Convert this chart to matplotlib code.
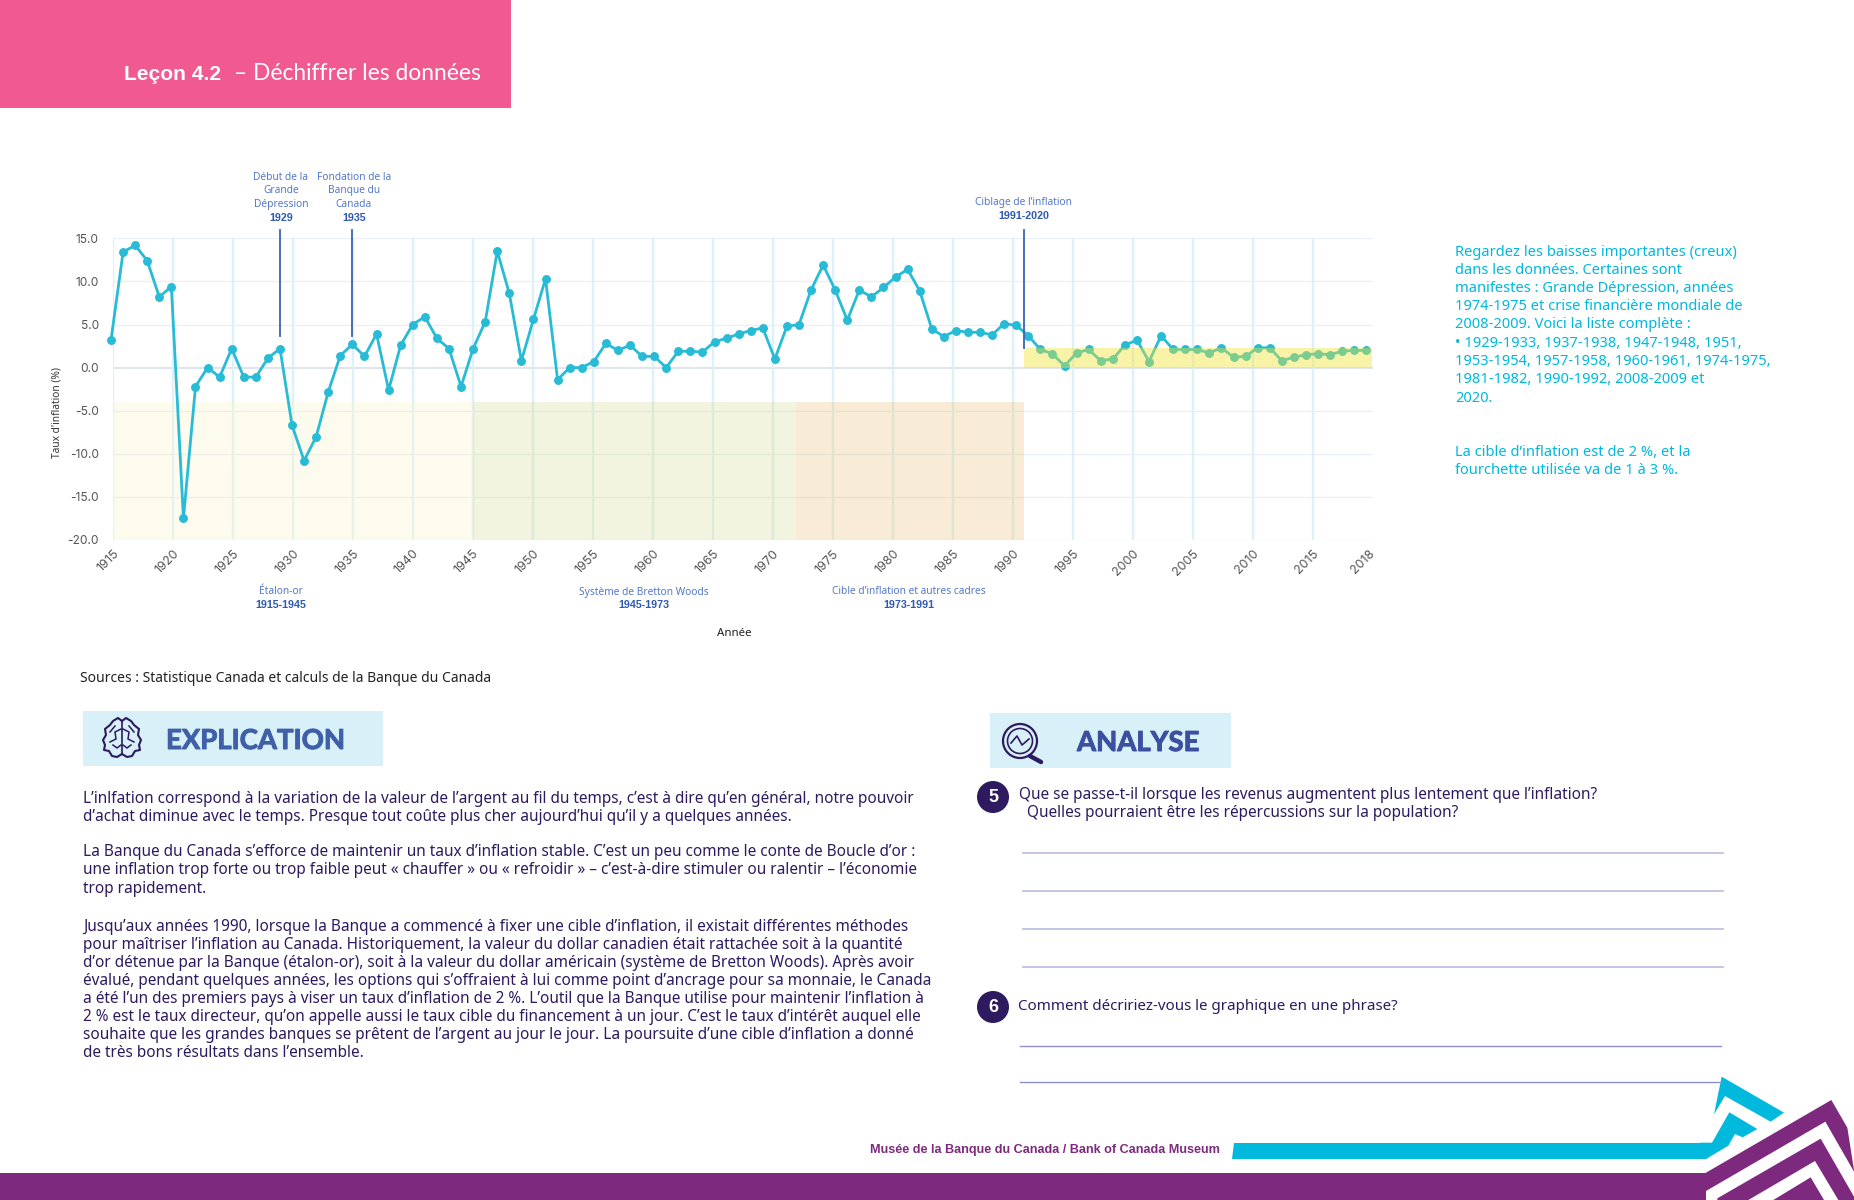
import matplotlib
matplotlib.use('Agg')
import matplotlib.pyplot as plt
import matplotlib.patheffects as pe
from matplotlib.patches import Rectangle, Polygon, Circle

# Chart data
years = list(range(1915, 2020))
inflation = [3.2, 13.4, 14.2, 12.4, 8.2, 9.4, -17.5, -2.2, 0.0, -1.1,
             2.2, -1.1, -1.1, 1.1, 2.2, -6.7, -10.8, -8.0, -2.8, 1.4,
             2.7, 1.3, 3.9, -2.6, 2.6, 5.0, 5.9, 3.4, 2.2, -2.2,
             2.2, 5.3, 13.5, 8.6, 0.8, 5.6, 10.3, -1.4, 0.0, 0.0,
             0.7, 2.8, 2.0, 2.6, 1.3, 1.3, 0.0, 1.9, 1.9, 1.8,
             3.0, 3.4, 3.9, 4.3, 4.6, 1.0, 4.8, 5.0, 9.0, 11.9,
             9.0, 5.5, 9.0, 8.2, 9.3, 10.5, 11.4, 8.9, 4.5, 3.6,
             4.3, 4.1, 4.1, 3.8, 5.1, 4.9, 3.7, 2.1, 1.6, 0.2,
             1.7, 2.1, 0.8, 1.0, 2.6, 3.2, 0.7, 3.7, 2.1, 2.1,
             2.1, 1.7, 2.3, 1.2, 1.3, 2.3, 2.3, 0.8, 1.2, 1.5,
             1.6, 1.5, 1.9, 2.0, 2.0]
y_ticks = [15, 10, 5, 0, -5, -10, -15, -20]
x_tick_labels = list(range(1915, 2016, 5)) + [2018]
regime_edges = [1915.15, 1945.0, 1971.75, 1990.65]
regime_colors = ['#F9F4CE', '#DAE2A4', '#EBC98A']
target_band = [1990.65, 2019.5, 0, 2.25]
event_years = [1929, 1935, 1990.65]
event_tops = [3.7, 3.7, 2.25]

NAVY = '#2E1A5E'
CYAN = '#00B9DC'
PURPLE = '#7D2A7E'
BLUE = '#5478C8'
DBLUE = '#2F5AB0'
FONT = 'Noto Sans'
BOLD = 'Liberation Sans'

fig = plt.figure(figsize=(18.54, 12), dpi=100)

# page layer in pixel coordinates
page = fig.add_axes([0, 0, 1, 1])
page.set_xlim(0, 1854)
page.set_ylim(1200, 0)
page.axis('off')


def pt(px):
    return px * 0.72


def txt(x, y, s, size, color=NAVY, ha='left', weight='normal', family=FONT, **kw):
    return page.text(x, y, s, fontsize=pt(size), color=color, ha=ha, va='center',
                     fontweight=weight, family=family, **kw)


# header
page.add_patch(Rectangle((0, 0), 511, 108, color='#F15A90', lw=0))
txt(124, 74, 'Leçon 4.2', 21, color='white', weight='bold', family=BOLD)
txt(234, 74, '– Déchiffrer les données', 22.8, color='white', family='Lato')

# chart: year axis is laid so 1915 falls at px 111 and spacing is 12.07 px
left, right, top, bottom = 112.7, 1373.0, 238.3, 540.0
ax = fig.add_axes([left / 1854, 1 - bottom / 1200, (right - left) / 1854, (bottom - top) / 1200])
ax.patch.set_alpha(0)
ax.set_xlim(1915 + (left - 111) / 12.07, 1915 + (right - 111) / 12.07)
ax.set_ylim(-20, 15)
for s in ax.spines.values():
    s.set_visible(False)

for y in y_ticks:
    ax.axhline(y, color='#D6DCE8' if y == 0 else '#E9EFF5', lw=1.1 if y == 0 else 0.9, zorder=1)
# the vertical guides in the picture run at 12 px a year, a little tighter than the points
grid_years = [1915.14 + (v - 1915) * 12 / 12.07 for v in x_tick_labels[:-1]]
for g in grid_years:
    ax.axvline(g, color='#DCF1F9', lw=1.7, zorder=1)

for i in range(3):
    ax.axvspan(regime_edges[i], regime_edges[i + 1], ymin=0, ymax=16 / 35,
               color=regime_colors[i], alpha=0.35, lw=0, zorder=2)

ax.plot(years, inflation, color='#27BBD6', lw=2.0, marker='o', ms=5.4, clip_on=False, zorder=3)
ax.add_patch(Rectangle((target_band[0], target_band[2]), target_band[1] - target_band[0],
                       target_band[3] - target_band[2], color='#F2E430', alpha=0.42, lw=0, zorder=4))
for e, t in zip(event_years, event_tops):
    ax.plot([e, e], [t, 16], color='#3A62B8', lw=1.3, clip_on=False, zorder=5)

ax.set_yticks(y_ticks)
ax.set_yticklabels([f'{v:.1f}' for v in y_ticks], fontsize=pt(12), color='#555555', family='Inter')
ax.set_xticks(grid_years + [2019.2])
ax.set_xticklabels(x_tick_labels, fontsize=pt(12.5), color='#555555', family='Inter',
                   rotation=45, ha='right', rotation_mode='anchor')
ax.tick_params(axis='y', length=0, pad=10)
ax.tick_params(axis='x', length=0, pad=5.5)

txt(57, 413, "Taux d'inflation (%)", 10.2, color='#333333', ha='center', rotation=90)
txt(734, 633, 'Année', 11.5, color='#222222', ha='center')

for x, lines, year in [(281, ['Début de la', 'Grande', 'Dépression'], '1929'),
                       (354, ['Fondation de la', 'Banque du', 'Canada'], '1935')]:
    for i, line in enumerate(lines):
        txt(x, 177 + i * 13.7, line, 10.2, color=BLUE, ha='center')
    txt(x, 218, year, 10.8, color=DBLUE, ha='center', weight='bold', family=BOLD)
txt(1024, 202, 'Ciblage de l’inflation', 10.2, color=BLUE, ha='center')
txt(1024, 216, '1991-2020', 10.8, color=DBLUE, ha='center', weight='bold', family=BOLD)
for x, a, b in [(281, 'Étalon-or', '1915-1945'),
                (644, 'Système de Bretton Woods', '1945-1973'),
                (909, 'Cible d’inflation et autres cadres', '1973-1991')]:
    txt(x, 592, a, 10.2, color=BLUE, ha='center')
    txt(x, 605, b, 10.8, color=DBLUE, ha='center', weight='bold', family=BOLD)

# side note
side_lines = ['Regardez les baisses importantes (creux)', 'dans les données. Certaines sont',
              'manifestes : Grande Dépression, années', '1974-1975 et crise financière mondiale de',
              '2008-2009. Voici la liste complète :', '• 1929-1933, 1937-1938, 1947-1948, 1951,',
              '1953-1954, 1957-1958, 1960-1961, 1974-1975,', '1981-1982, 1990-1992, 2008-2009 et', '2020.']
for i, line in enumerate(side_lines):
    txt(1455, 252 + i * 18.25, line, 14.7, color=CYAN)
txt(1455, 452, 'La cible d’inflation est de 2 %, et la', 14.7, color=CYAN)
txt(1455, 470, 'fourchette utilisée va de 1 à 3 %.', 14.7, color=CYAN)

txt(80, 679, 'Sources : Statistique Canada et calculs de la Banque du Canada', 13.9, color='#222222')

# explication block
stroke = [pe.withStroke(linewidth=0.7, foreground='#3F5FA8')]
page.add_patch(Rectangle((83, 711), 300, 55, color='#D8F0F7', lw=0))
txt(166, 741, 'EXPLICATION', 27.5, color='#3F5FA8', weight='bold', family='Lato', path_effects=stroke)
# brain outline, one lobe each side of the middle line
lobe_x = [0, 4, 9, 12, 17, 16, 19, 17, 18, 13, 10, 5, 0]
lobe_y = [-17, -20, -17, -13, -9, -3, 2, 7, 12, 13, 18, 19, 16]
for side in [-1, 1]:
    page.plot([122 + side * a for a in lobe_x], [738 + b for b in lobe_y], color=NAVY, lw=1.5)
    page.plot([122 + side * a for a in [1, 7, 6, 12]], [738 + b for b in [-9, -6, 1, 4]], color=NAVY, lw=1.1)
    page.plot([122 + side * a for a in [1, 5, 9]], [738 + b for b in [7, 10, 7]], color=NAVY, lw=1.1)
    page.plot([122 + side * a for a in [7, 12]], [738 + b for b in [-12, -6]], color=NAVY, lw=1.1)
page.plot([122, 122], [721, 754], color=NAVY, lw=1.2)

body_lines = [(799, 'L’inlfation correspond à la variation de la valeur de l’argent au fil du temps, c’est à dire qu’en général, notre pouvoir'),
              (817, 'd’achat diminue avec le temps. Presque tout coûte plus cher aujourd’hui qu’il y a quelques années.'),
              (852, 'La Banque du Canada s’efforce de maintenir un taux d’inflation stable. C’est un peu comme le conte de Boucle d’or :'),
              (870, 'une inflation trop forte ou trop faible peut « chauffer » ou « refroidir » – c’est-à-dire stimuler ou ralentir – l’économie'),
              (889, 'trop rapidement.'),
              (927, 'Jusqu’aux années 1990, lorsque la Banque a commencé à fixer une cible d’inflation, il existait différentes méthodes'),
              (945, 'pour maîtriser l’inflation au Canada. Historiquement, la valeur du dollar canadien était rattachée soit à la quantité'),
              (963, 'd’or détenue par la Banque (étalon-or), soit à la valeur du dollar américain (système de Bretton Woods). Après avoir'),
              (981, 'évalué, pendant quelques années, les options qui s’offraient à lui comme point d’ancrage pour sa monnaie, le Canada'),
              (999, 'a été l’un des premiers pays à viser un taux d’inflation de 2 %. L’outil que la Banque utilise pour maintenir l’inflation à'),
              (1017, '2 % est le taux directeur, qu’on appelle aussi le taux cible du financement à un jour. C’est le taux d’intérêt auquel elle'),
              (1035, 'souhaite que les grandes banques se prêtent de l’argent au jour le jour. La poursuite d’une cible d’inflation a donné'),
              (1053, 'de très bons résultats dans l’ensemble.')]
for y, line in body_lines:
    txt(83, y, line, 15.35)

# analyse block
page.add_patch(Rectangle((990, 713), 241, 55, color='#D8F0F7', lw=0))
txt(1077, 743, 'ANALYSE', 27.5, color='#3C4FA0', weight='bold', family='Lato',
    path_effects=[pe.withStroke(linewidth=0.7, foreground='#3C4FA0')])
page.add_patch(Circle((1020, 741), 17, fc='none', ec=NAVY, lw=1.6))
page.add_patch(Circle((1020, 741), 12.5, fc='none', ec=NAVY, lw=1.2))
page.plot([1030, 1041], [756, 762], color=NAVY, lw=3.2, solid_capstyle='round')
page.plot([1011, 1017, 1022, 1029], [743, 736, 745, 739], color=NAVY, lw=1.2)

for y, n in [(797, '5'), (1007, '6')]:
    page.add_patch(Circle((993, y), 16, color=NAVY, lw=0))
    txt(993, y, n, 18, color='white', ha='center', weight='bold', family=BOLD)
txt(1019, 795, 'Que se passe-t-il lorsque les revenus augmentent plus lentement que l’inflation?', 15.35)
txt(1027, 813, 'Quelles pourraient être les répercussions sur la population?', 15.35)
txt(1018, 1007, 'Comment décririez-vous le graphique en une phrase?', 15.1)
for y in [853, 891, 929, 967]:
    page.plot([1023, 1723], [y, y], color='#BFC0E0', lw=1.3)
for y in [1046, 1082]:
    page.plot([1020, 1721], [y, y], color='#8C8FD0', lw=1.0)

# footer and logo
txt(870, 1150, 'Musée de la Banque du Canada / Bank of Canada Museum', 12.6, color=PURPLE, weight='bold',
    family=BOLD)


def logo(points, color):
    page.add_patch(Polygon([(1600 + a / 3, 1060 + b / 3) for a, b in points], closed=True, color=color, lw=0))


page.add_patch(Polygon([(1234, 1143), (1712, 1143), (1706, 1159), (1232, 1159)], closed=True, color=CYAN, lw=0))
logo([(365, 50), (552, 158), (512, 185), (375, 108), (342, 163)], CYAN)
logo([(336, 248), (388, 157), (472, 207), (428, 232), (405, 222), (385, 257), (318, 297), (300, 297), (300, 248)], CYAN)
page.add_patch(Rectangle((0, 1173), 1710, 27, color=PURPLE, lw=0))
logo([(318, 338), (694, 120), (742, 203), (762, 330), (762, 420), (318, 420)], PURPLE)
logo([(318, 393), (676, 185), (762, 335), (762, 420), (318, 420)], 'white')
logo([(352, 415), (662, 236), (762, 410), (762, 420), (352, 420)], PURPLE)
logo([(445, 420), (645, 303), (715, 420)], 'white')
logo([(520, 420), (632, 352), (672, 420)], PURPLE)

fig.savefig('out.png', dpi=100)
